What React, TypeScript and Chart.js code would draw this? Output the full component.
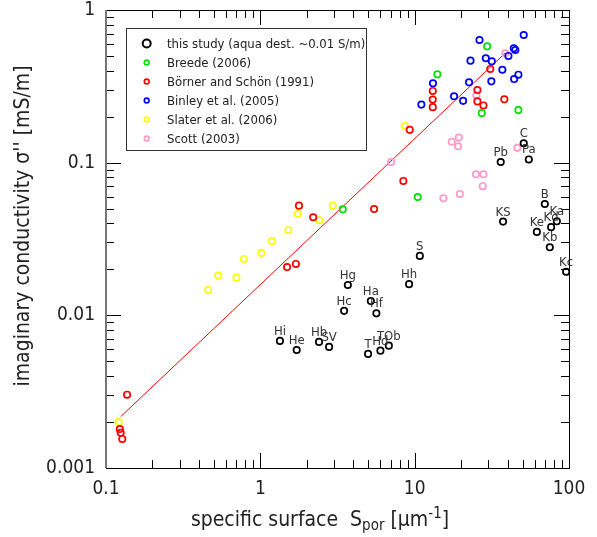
import React, { useEffect, useRef } from 'react';
import { Chart, registerables } from 'chart.js';
Chart.register(...registerables);

const FONT = "'DejaVu Sans Condensed', 'DejaVu Sans', sans-serif";

// this study (aqua dest.)
const studyLabels = ['Hi', 'He', 'Hb', 'SV', 'Hg', 'Hc', 'Ha', 'Hf', 'Hh', 'T', 'Hd', 'TOb', 'S', 'Pb', 'C', 'Pa', 'KS', 'B', 'Ka', 'Kd', 'Ke', 'Kb', 'Kc'];
const studyS = [1.34, 1.72, 2.40, 2.79, 3.69, 3.49, 5.20, 5.65, 9.2, 4.99, 6.0, 6.8, 10.8, 36.1, 50.9, 54.9, 37.4, 69.7, 83.4, 76.6, 61.9, 75.1, 95.8];
const studySigma = [0.0068, 0.00593, 0.0067, 0.00621, 0.0158, 0.0107, 0.0124, 0.0103, 0.0160, 0.00559, 0.00587, 0.00633, 0.0245, 0.101, 0.134, 0.105, 0.0411, 0.0536, 0.0413, 0.0378, 0.0352, 0.0279, 0.0193];

// Breede (2006)
const breedeS = [3.42, 10.47, 14.03, 29.5, 27.2, 47.0];
const breedeSigma = [0.0495, 0.0596, 0.379, 0.578, 0.2115, 0.221];

// Börner and Schön (1991)
const boernerS = [0.123, 0.1245, 0.1275, 0.137, 1.49, 1.70, 1.78, 2.20, 5.46, 8.45, 9.29, 13.1, 13.1, 13.1, 25.5, 25.5, 27.9, 30.9, 38.1];
const boernerSigma = [0.0018, 0.0017, 0.00155, 0.00302, 0.0207, 0.0217, 0.0523, 0.0439, 0.0497, 0.0759, 0.164, 0.295, 0.259, 0.231, 0.299, 0.252, 0.237, 0.411, 0.260];

// Binley et al. (2005)
const binleyS = [11.05, 13.15, 18.0, 20.6, 22.5, 23.0, 26.3, 28.9, 31.6, 31.4, 37.0, 40.5, 43.9, 44.9, 44.1, 47.0, 50.9];
const binleySigma = [0.240, 0.331, 0.272, 0.254, 0.336, 0.466, 0.636, 0.483, 0.461, 0.341, 0.406, 0.500, 0.561, 0.547, 0.353, 0.377, 0.686];

// Slater et al. (2006)
const slaterS = [0.121, 0.46, 0.534, 0.70, 0.784, 1.015, 1.19, 1.52, 1.755, 2.41, 2.95, 8.63];
const slaterSigma = [0.0020, 0.01466, 0.0182, 0.01765, 0.0234, 0.0256, 0.0307, 0.0361, 0.0461, 0.0420, 0.0523, 0.174];

// Scott (2003)
const scottS = [7.03, 15.35, 17.4, 19.3, 19.1, 19.6, 25.0, 27.9, 27.6, 25.1, 38.7, 46.3];
const scottSigma = [0.101, 0.0585, 0.137, 0.146, 0.128, 0.0624, 0.0839, 0.0839, 0.0701, 0.276, 0.521, 0.125];

// fit line
const fitS = [0.1245, 38.5];
const fitSigma = [0.00217, 0.521];

const xTicks = [0.1, 1, 10, 100];
const yTicks = [0.001, 0.01, 0.1, 1];

const legendLabels = ['this study (aqua dest. ~0.01 S/m)', 'Breede (2006)', 'Börner and Schön (1991)', 'Binley et al. (2005)', 'Slater et al. (2006)', 'Scott (2003)'];
const legendColors = ['#000000', '#00e000', '#ff0000', '#0000ff', '#ffff00', '#ff99cc'];

const pts = (xs: number[], ys: number[]) => xs.map((x, i) => ({ x, y: ys[i] }));

const decorPlugin = {
  id: 'decor',
  beforeDatasetsDraw(chart: any) {
    const { ctx, chartArea: a, scales } = chart;
    const xs = scales.x, ys = scales.y;
    ctx.save();
    ctx.strokeStyle = '#000';
    ctx.lineWidth = 1;
    const MAJ = 15, MIN = 8;
    ctx.beginPath();
    for (let d = 0.1; d < 150; d *= 10) {
      for (let k = 1; k <= 9; k++) {
        const v = k * d;
        if (v < 0.0999 || v > 100.01) continue;
        const px = Math.round(xs.getPixelForValue(v)) + 0.5;
        const L = k === 1 ? MAJ : MIN;
        ctx.moveTo(px, a.bottom); ctx.lineTo(px, a.bottom - L);
        ctx.moveTo(px, a.top); ctx.lineTo(px, a.top + L);
      }
    }
    for (let d = 0.001; d < 1.5; d *= 10) {
      for (let k = 1; k <= 9; k++) {
        const v = k * d;
        if (v < 0.000999 || v > 1.0001) continue;
        const py = Math.round(ys.getPixelForValue(v)) + 0.5;
        const L = k === 1 ? MAJ : MIN;
        ctx.moveTo(a.left, py); ctx.lineTo(a.left + L, py);
        ctx.moveTo(a.right, py); ctx.lineTo(a.right - L, py);
      }
    }
    ctx.stroke();
    ctx.strokeRect(Math.round(a.left) + 0.5, Math.round(a.top) + 0.5, Math.round(a.right - a.left), Math.round(a.bottom - a.top));
    ctx.strokeStyle = '#777';
    ctx.lineWidth = 2;
    ctx.beginPath();
    ctx.moveTo(Math.round(a.left), a.top); ctx.lineTo(Math.round(a.left), a.bottom);
    ctx.stroke();
    ctx.restore();
  },
  afterDraw(chart: any) {
    const { ctx, chartArea: a, scales } = chart;
    const xs = scales.x, ys = scales.y;
    ctx.save();
    // point labels
    ctx.fillStyle = '#333';
    ctx.font = `13px ${FONT}`;
    ctx.textAlign = 'center';
    ctx.textBaseline = 'alphabetic';
    studyLabels.forEach((lab, i) => {
      const px = xs.getPixelForValue(studyS[i]);
      const py = ys.getPixelForValue(studySigma[i]);
      ctx.fillText(lab, px, py - 6);
    });
    // legend
    const lx = 126.5, ly = 28.5, lw = 240, lh = 122;
    ctx.fillStyle = '#fff';
    ctx.fillRect(lx, ly, lw, lh);
    ctx.strokeStyle = '#333';
    ctx.lineWidth = 1;
    ctx.strokeRect(lx, ly, lw, lh);
    ctx.textAlign = 'left';
    ctx.textBaseline = 'middle';
    ctx.font = `13px ${FONT}`;
    legendLabels.forEach((lab, i) => {
      const cy = 43.5 + i * 19;
      ctx.beginPath();
      if (i === 0) {
        ctx.lineWidth = 2; ctx.arc(146.7, cy, 4, 0, Math.PI * 2);
      } else {
        ctx.lineWidth = 1.6; ctx.arc(146.7, cy, 2.4, 0, Math.PI * 2);
      }
      ctx.strokeStyle = legendColors[i];
      ctx.stroke();
      ctx.fillStyle = '#222';
      ctx.fillText(lab, 167, cy + 1);
    });
    // x title
    ctx.fillStyle = '#222';
    ctx.textBaseline = 'alphabetic';
    ctx.textAlign = 'left';
    const big = `21px ${FONT}`, small = `15px ${FONT}`;
    const parts: [string, string, number][] = [
      ['specific surface  S', big, 0],
      ['por', small, 4],
      [' [μm', big, 0],
      ['-1', small, -8],
      [']', big, 0],
    ];
    let total = 0;
    parts.forEach(([t, f]) => { ctx.font = f; total += ctx.measureText(t).width; });
    let cx = 320 - total / 2;
    parts.forEach(([t, f, dy]) => { ctx.font = f; ctx.fillText(t, cx, 526 + dy); cx += ctx.measureText(t).width; });
    // y title
    ctx.save();
    ctx.translate(29, 226);
    ctx.rotate(-Math.PI / 2);
    ctx.font = big;
    ctx.textAlign = 'center';
    ctx.fillText("imaginary conductivity σ'' [mS/m]", 0, 0);
    ctx.restore();
    ctx.restore();
  },
};

export default function App() {
  const ref = useRef<HTMLCanvasElement>(null);
  useEffect(() => {
    const canvas = ref.current!;
    const sc = (label: string, xs: number[], ys: number[], color: string) => ({
      label, data: pts(xs, ys), borderColor: color, backgroundColor: 'rgba(0,0,0,0)',
      pointRadius: 3.2, borderWidth: 1.7, pointHoverRadius: 3.2, showLine: false,
    });
    const chart = new Chart(canvas, {
      type: 'scatter',
      data: {
        datasets: [
          sc(legendLabels[0], studyS, studySigma, legendColors[0]),
          sc(legendLabels[1], breedeS, breedeSigma, legendColors[1]),
          sc(legendLabels[2], boernerS, boernerSigma, legendColors[2]),
          sc(legendLabels[3], binleyS, binleySigma, legendColors[3]),
          sc(legendLabels[4], slaterS, slaterSigma, legendColors[4]),
          sc(legendLabels[5], scottS, scottSigma, legendColors[5]),
          {
            label: 'fit', data: pts(fitS, fitSigma), borderColor: '#ff0000', borderWidth: 1,
            pointRadius: 0, showLine: true, backgroundColor: '#ff0000',
          } as any,
        ],
      },
      options: {
        responsive: false,
        animation: false,
        events: [],
        layout: { padding: { left: 0, top: 10, right: 28, bottom: 0 } },
        plugins: { legend: { display: false }, tooltip: { enabled: false } },
        scales: {
          x: {
            type: 'logarithmic', min: 0.1, max: 100, position: 'bottom',
            grid: { display: false }, border: { display: false },
            afterBuildTicks: (s: any) => { s.ticks = xTicks.map((v) => ({ value: v })); },
            afterFit: (s: any) => { s.height = 69; s.paddingLeft = 0; s.paddingRight = 0; },
            ticks: {
              font: { family: FONT, size: 19 }, color: '#222', padding: 2,
              autoSkip: false, maxRotation: 0,
              callback: (v: any) => String(v),
            },
          },
          y: {
            type: 'logarithmic', min: 0.001, max: 1, position: 'left',
            grid: { display: false }, border: { display: false },
            afterBuildTicks: (s: any) => { s.ticks = yTicks.map((v) => ({ value: v })); },
            afterFit: (s: any) => { s.width = 106; s.paddingTop = 0; s.paddingBottom = 0; },
            ticks: {
              font: { family: FONT, size: 19 }, color: '#222', padding: 3,
              autoSkip: false,
              callback: (v: any) => String(v),
            },
          },
        },
      } as any,
      plugins: [decorPlugin],
    });
    return () => chart.destroy();
  }, []);
  return (
    <div style={{ position: 'fixed', left: 0, top: 0, width: 597, height: 537, background: '#fff' }}>
      <canvas ref={ref} width={597} height={537} style={{ display: 'block', width: 597, height: 537 }} />
    </div>
  );
}
